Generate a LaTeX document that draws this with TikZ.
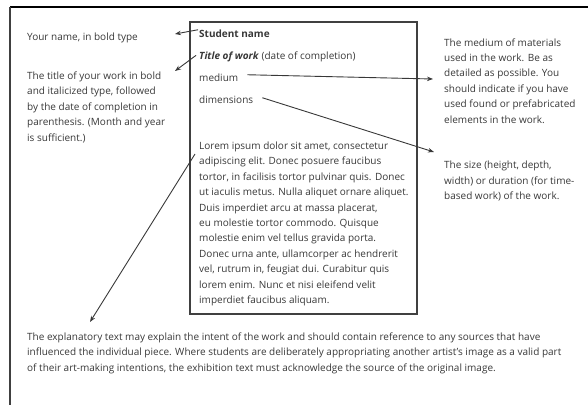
\documentclass[tikz,border=0pt]{standalone}
\usepackage{fontspec}
\setmainfont{Open Sans}
\usepackage{tikz}
\usetikzlibrary{arrows.meta}
\usepackage{xcolor}

\definecolor{inkgray}{gray}{0.22}
\definecolor{framegray}{gray}{0.25}

\tikzset{
  note/.style={anchor=base west, inner sep=0pt, align=left, text=inkgray,
    font=\fontsize{10}{15.4}\selectfont},
  cardtext/.style={note, font=\fontsize{10}{15.4}\selectfont},
  pointer/.style={draw=inkgray, line width=0.9pt, -{Stealth[length=6pt,width=4.5pt]}},
}

\begin{document}
\begin{tikzpicture}[x=1pt, y=-1pt]

\useasboundingbox (0,0) rectangle (588,405);

% OUTER FRAME %
\begin{scope}
{
\draw[black, line width=1.8pt] (10,7) -- (588,7);
\draw[framegray, line width=1.2pt] (10,7) -- (10,405);
}
\end{scope}

%%%%%%%%%%%%  Label card %%%%%%%%%%%%%
% (base anchor of a multi-line node = its last line)
\begin{scope}
{
\draw[framegray, line width=1.3pt] (190,22) rectangle (417,314);

\node[cardtext, font=\fontsize{10}{15.4}\selectfont\bfseries] (name) at (199,37) {Student name};
\node[cardtext] (title) at (199,59) {\textbf{\textit{Title of work}} (date of completion)};
\node[cardtext] (medium) at (199,81) {medium};
\node[cardtext] (dims) at (199,103) {dimensions};

\node[cardtext] (lorem) at (199,303.5)
{Lorem ipsum dolor sit amet, consectetur\\
adipiscing elit. Donec posuere faucibus\\
tortor, in facilisis tortor pulvinar quis. Donec\\
ut iaculis metus. Nulla aliquet ornare aliquet.\\
Duis imperdiet arcu at massa placerat,\\
eu molestie tortor commodo. Quisque\\
molestie enim vel tellus gravida porta.\\
Donec urna ante, ullamcorper ac hendrerit\\
vel, rutrum in, feugiat dui. Curabitur quis\\
lorem enim. Nunc et nisi eleifend velit\\
imperdiet faucibus aliquam.};
}
\end{scope}

%%%%%%%%%%%%  Explanations %%%%%%%%%%%%%
\begin{scope}
{
\node[note] (namenote) at (27,40) {Your name, in bold type};

\node[note] (titlenote) at (27,141)
{The title of your work in bold\\
and italicized type, followed\\
by the date of completion in\\
parenthesis. (Month and year\\
is sufficient.)};

\node[note] (mediumnote) at (444,123)
{The medium of materials\\
used in the work. Be as\\
detailed as possible. You\\
should indicate if you have\\
used found or prefabricated\\
elements in the work.};

\node[note] (dimsnote) at (444,199.5)
{The size (height, depth,\\
width) or duration (for time-\\
based work) of the work.};

\node[note] (textnote) at (27,371)
{The explanatory text may explain the intent of the work and should contain reference to any sources that have\\
influenced the individual piece. Where students are deliberately appropriating another artist's image as a valid part\\
of their art-making intentions, the exhibition text must acknowledge the source of the original image.};
}
\end{scope}

% pointers
{
\coordinate (nametip) at (175,34);
\coordinate (titletip) at (175,71);
\coordinate (mediumtip) at (433,79);
\coordinate (dimstip) at (434,152);
\coordinate (lorem0) at (195,154);
\coordinate (loremtip) at (90,322);

\draw[pointer] (name.west) ++(-1,-3.5) -- (nametip);
\draw[pointer] (title.west) ++(-3,-1) -- (titletip);
\draw[pointer] (medium.east) ++(9,-2.5) -- (mediumtip);
\draw[pointer] (dims.east) ++(9,-1.5) -- (dimstip);
\draw[pointer] (lorem0) -- (loremtip);
}

\end{tikzpicture}
\end{document}
